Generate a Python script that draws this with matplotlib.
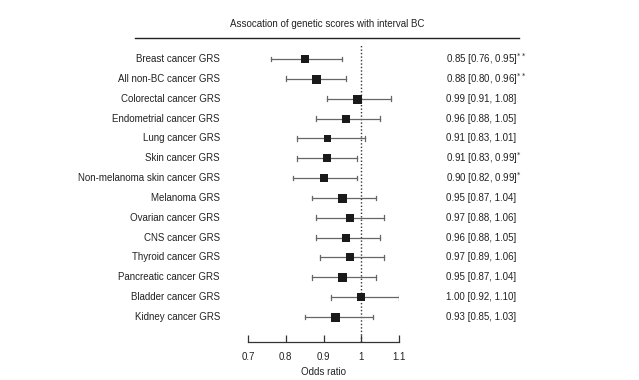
import matplotlib.pyplot as plt
import matplotlib.transforms as mtransforms
from matplotlib.lines import Line2D

plt.rcParams['font.family'] = ['Liberation Sans', 'DejaVu Sans']

labels = ['Breast cancer GRS', 'All non-BC cancer GRS', 'Colorectal cancer GRS',
          'Endometrial cancer GRS', 'Lung cancer GRS', 'Skin cancer GRS',
          'Non-melanoma skin cancer GRS', 'Melanoma GRS', 'Ovarian cancer GRS',
          'CNS cancer GRS', 'Thyroid cancer GRS', 'Pancreatic cancer GRS',
          'Bladder cancer GRS', 'Kidney cancer GRS']
odds = [0.85, 0.88, 0.99, 0.96, 0.91, 0.91, 0.90, 0.95, 0.97, 0.96, 0.97, 0.95, 1.00, 0.93]
lower = [0.76, 0.80, 0.91, 0.88, 0.83, 0.83, 0.82, 0.87, 0.88, 0.88, 0.89, 0.87, 0.92, 0.85]
upper = [0.95, 0.96, 1.08, 1.05, 1.01, 0.99, 0.99, 1.04, 1.06, 1.05, 1.06, 1.04, 1.10, 1.03]
stars = ['**', '**', '', '', '', '*', '*', '', '', '', '', '', '', '']
# marker side in pixels
box_px = [8, 9, 9, 8.5, 7, 8, 7.5, 9, 8.5, 8, 8.5, 9, 8.5, 9]

W, H = 639, 380
fig = plt.figure(figsize=(W / 100, H / 100), dpi=100)
ax = fig.add_axes([248 / W, 1 - 342 / H, (399 - 248) / W, (342 - 45) / H])
ax.set_xlim(0.7, 1.1)
ax.set_ylim(14.26, -0.705)

ax.axvline(1.0, color='#333333', lw=1, ls=(0, (1, 1.5)), zorder=0)

trans = mtransforms.blended_transform_factory(fig.transFigure, ax.transData)
for i in range(len(labels)):
    ax.plot([lower[i], upper[i]], [i, i], color='#666666', lw=0.9)
    ax.plot([lower[i], lower[i]], [i - 0.12, i + 0.12], color='#666666', lw=0.9)
    ax.plot([upper[i], upper[i]], [i - 0.12, i + 0.12], color='#666666', lw=0.9)
    ax.plot(odds[i], i, marker='s', ms=box_px[i] * 0.72, mew=0, color='#1a1a1a', zorder=3)

    ax.text(220 / W, i, labels[i], transform=trans, ha='right', va='center',
            fontsize=7, color='#222222')
    txt = '%.2f [%.2f, %.2f]' % (odds[i], lower[i], upper[i])
    if stars[i]:
        txt += '$^{' + stars[i] + '}$'
    ax.text(446 / W, i, txt, transform=trans, ha='left', va='center',
            fontsize=7, color='#222222')

for s in ['top', 'right', 'left']:
    ax.spines[s].set_visible(False)
ax.spines['bottom'].set_color('#333333')
ax.spines['bottom'].set_linewidth(0.9)
ax.set_yticks([])
ax.set_xticks([0.7, 0.8, 0.9, 1.0, 1.1])
ax.set_xticklabels(['0.7', '0.8', '0.9', '1', '1.1'])
ax.tick_params(axis='x', direction='in', length=5, width=0.9, color='#333333',
               labelsize=7, labelcolor='#222222', pad=7)
ax.set_xlabel('Odds ratio', fontsize=7, color='#222222', labelpad=4)

fig.text(327 / W, 1 - 24 / H, 'Assocation of genetic scores with interval BC',
         ha='center', va='center', fontsize=7, color='#222222')
fig.add_artist(Line2D([135 / W, 519 / W], [1 - 38 / H, 1 - 38 / H], color='#222222', lw=1))

fig.savefig('out.png', dpi=100)
